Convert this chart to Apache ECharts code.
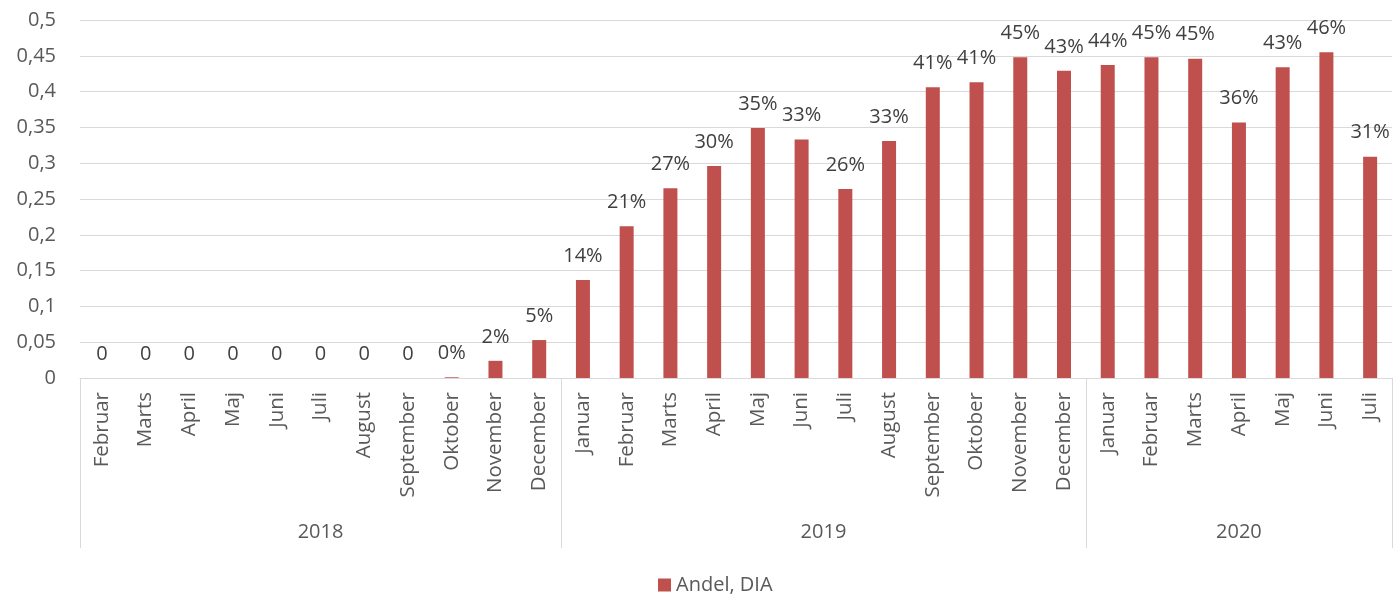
<!DOCTYPE html>
<html>
<head>
<meta charset="utf-8">
<script src="https://cdn.jsdelivr.net/npm/echarts@6/dist/echarts.min.js"></script>
<style>html,body{margin:0;padding:0;background:#fff}#c{width:1394px;height:595px}</style>
</head>
<body>
<div id="c"></div>
<script>
const months = ['Februar','Marts','April','Maj','Juni','Juli','August','September','Oktober','November','December',
  'Januar','Februar','Marts','April','Maj','Juni','Juli','August','September','Oktober','November','December',
  'Januar','Februar','Marts','April','Maj','Juni','Juli'];
const values = [0,0,0,0,0,0,0,0,0.001,0.024,0.053,
  0.137,0.212,0.265,0.296,0.349,0.333,0.264,0.331,0.406,0.413,0.448,0.429,
  0.437,0.448,0.446,0.357,0.434,0.455,0.309];
const years = ['2018','2019','2020'];
const groupSizes = [11,12,7];
const yTicks = {min:0, max:0.5, interval:0.05};
const seriesName = 'Andel, DIA';

const bounds = [0];
groupSizes.forEach(s => bounds.push(bounds[bounds.length-1] + s));
const centers = groupSizes.map((s,i) => bounds[i] + s/2);

const FONT = 'Open Sans';
const chart = echarts.init(document.getElementById('c'));
chart.setOption({
  animation:false,
  textStyle:{fontFamily:FONT},
  grid:{left:80,right:2,top:20,bottom:217},
  legend:{data:[seriesName],left:653,top:570,itemWidth:13,itemHeight:13,itemGap:5,
    textStyle:{fontFamily:FONT,fontSize:20,color:'#595959'},icon:'rect'},
  xAxis:[{
    type:'category',data:months,
    axisLine:{show:true,lineStyle:{color:'#d9d9d9',width:1}},
    axisTick:{show:false},
    axisLabel:{rotate:90,interval:0,margin:14,fontFamily:FONT,fontSize:20.5,color:'#595959'}
  },{
    type:'value',min:0,max:bounds[bounds.length-1],position:'bottom',
    axisLine:{show:false},splitLine:{show:false},
    axisTick:{show:true,customValues:bounds,length:170,lineStyle:{color:'#d9d9d9',width:1}},
    axisLabel:{customValues:centers,margin:144,fontFamily:FONT,fontSize:20,color:'#595959',
      formatter:v=>{const i=centers.findIndex(c=>Math.abs(c-v)<1e-6);return i>=0?years[i]:'';}}
  }],
  yAxis:{type:'value',min:yTicks.min,max:yTicks.max,interval:yTicks.interval,
    axisLine:{show:false},axisTick:{show:false},
    splitLine:{lineStyle:{color:'#d9d9d9',width:1}},
    axisLabel:{margin:24,fontFamily:FONT,fontSize:20,color:'#595959',
      formatter:v=>String(+v.toFixed(2)).replace('.',',')}},
  series:[{
    name:seriesName,type:'bar',data:values,barWidth:14,xAxisIndex:0,
    itemStyle:{color:'#c0504d'},
    label:{show:true,position:'top',distance:14,fontFamily:FONT,fontSize:20,color:'#404040',
      formatter:p=>p.value===0?'0':Math.round(p.value*100)+'%'}
  }]
});
</script>
</body>
</html>
